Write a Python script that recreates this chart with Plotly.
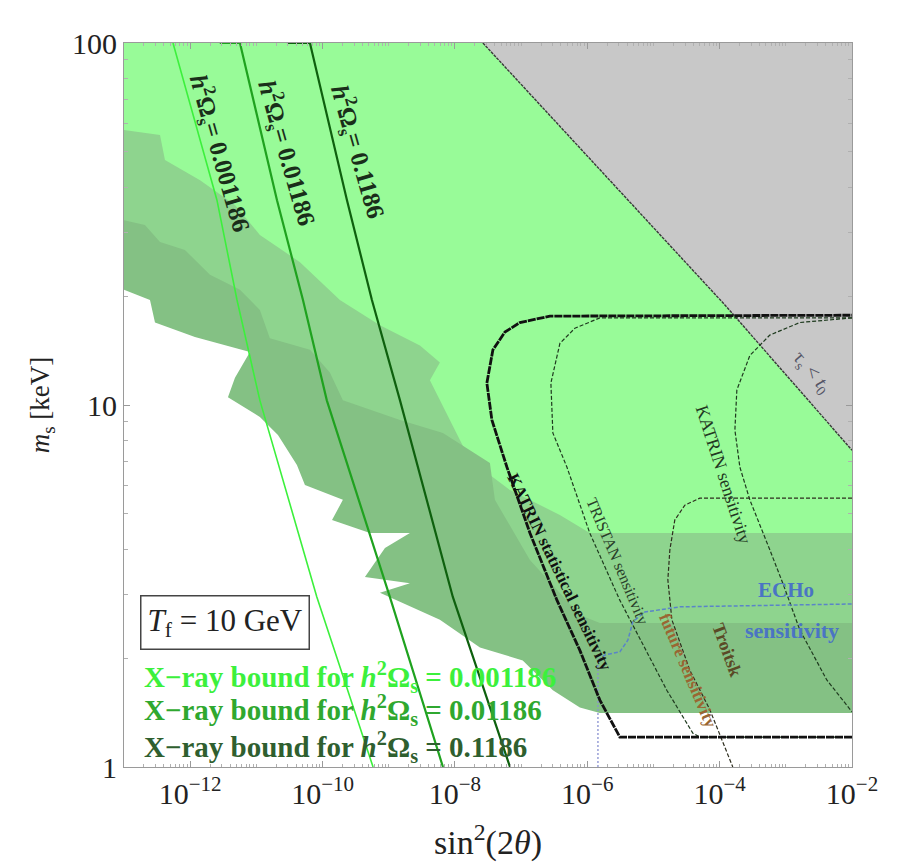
import numpy as np
import plotly.graph_objects as go

# ---------------- data (sin^2(2θ), m_s in keV) ----------------
X_MIN, X_MAX = 1e-13, 1e-2
Y_MIN, Y_MAX = 1.0, 100.0

# upper edge of the lighter X-ray excluded band
band1_x = [1e-13, 3.50e-13, 4.16e-13, 1.41e-12, 4.75e-12, 1.13e-11, 4.56e-11, 1.83e-10,
           7.36e-10, 2.96e-9, 5.93e-9, 4.19e-9, 8.39e-9, 1.69e-8, 6.78e-8, 3.85e-7, 1.09e-6, 1e-2]
band1_y = [57.5, 55.7, 47.5, 41.8, 35.7, 29.5, 24.8, 19.5,
           16.6, 14.6, 13.1, 11.7, 9.09, 7.05, 5.82, 4.97, 4.43, 4.43]

# upper edge of the darker X-ray excluded band
band2_x = [1e-13, 2.07e-13, 3.50e-13, 8.34e-13, 1.99e-12, 5.65e-12, 1.13e-11, 1.60e-11, 6.46e-11,
           1.29e-10, 2.03e-10, 1.48e-9, 6.59e-9, 1.69e-8, 3.38e-8, 4.02e-8, 1.36e-7, 7.73e-7, 1.55e-6, 1e-2]
band2_y = [32.4, 31.4, 28.2, 26.8, 22.9, 20.8, 18.3, 15.3, 14.2,
           12.3, 10.3, 9.09, 8.37, 7.51, 6.92, 5.47, 3.73, 2.63, 2.50, 2.50]

# upper edge of the unconstrained (white) region
white_x = [1e-13, 2.47e-13, 2.94e-13, 1.18e-12, 8.0e-12, 4.75e-12, 3.72e-12, 1.13e-11, 2.12e-11,
           4.10e-11, 5.42e-11, 2.03e-10, 1.39e-10, 5.20e-10, 2.09e-9, 8.77e-10, 4.37e-10, 2.09e-9,
           7.36e-10, 5.93e-9, 2.39e-8, 1.06e-7, 3.02e-7, 7.73e-7, 1.55e-6, 1e-2]
white_y = [20.8, 19.5, 16.9, 15.4, 14.0, 11.9, 10.5, 9.27, 8.26,
           6.83, 6.01, 5.47, 4.81, 4.43, 4.43, 4.03, 3.35, 3.22,
           3.03, 2.55, 2.14, 1.97, 1.63, 1.46, 1.41, 1.41]

# relic abundance lines
omega_low_x = [5.5e-13, 2.54e-12, 5.1e-12, 1.13e-11, 8.2e-11, 5.8e-10]
omega_low_y = [100, 36.8, 19.5, 10.3, 2.95, 1.0]
omega_mid_x = [2.8e-12, 5.65e-12, 2.05e-11, 5.06e-11, 1.16e-10, 1.04e-9, 6.6e-9]
omega_mid_y = [100, 100, 36.8, 19.5, 10.3, 2.95, 1.0]
omega_high_x = [2.9e-11, 6.45e-11, 2.34e-10, 5.57e-10, 1.48e-9, 9.3e-9, 6.8e-8]
omega_high_y = [100, 100, 36.8, 19.5, 10.3, 2.95, 1.0]

# lifetime shorter than age of universe
tau_x = [2.65e-8, 1.2e-4, 1e-2]
tau_y = [100, 18.9, 7.5]

# experimental sensitivity contours
katrin_stat_x = [1e-2, 3.10e-6, 1.55e-6, 7.73e-7, 3.48e-7, 1.36e-7, 6.10e-8, 3.62e-8, 3.04e-8,
                 3.75e-8, 5.69e-8, 9.6e-8, 2.72e-7, 1e-2]
katrin_stat_y = [1.21, 1.21, 1.53, 2.10, 2.89, 4.43, 6.74, 9.09, 11.5,
                 14.2, 15.9, 16.9, 17.6, 17.7]
tristan_x = [1e-2, 1.55e-6, 6.5e-7, 3.86e-7, 2.82e-7, 3.02e-7, 4.92e-7, 1.09e-6, 3.10e-6,
             7.41e-6, 1.59e-5, 3.94e-5, 5.02e-5, 1e-2]
tristan_y = [17.4, 17.4, 16.3, 14.8, 11.5, 8.37, 6.74, 4.43, 2.89,
             2.14, 1.63, 1.24, 1.21, 1.21]
katrin_sens_x = [1e-2, 1.63e-3, 5.73e-4, 2.86e-4, 1.82e-4, 1.70e-4, 2.02e-4, 2.86e-4, 5.73e-4,
                 9.0e-4, 1.63e-3, 4.16e-3, 1e-2]
katrin_sens_y = [17.4, 16.9, 15.6, 13.7, 11.0, 8.53, 6.74, 5.47, 3.98,
                 3.22, 2.39, 1.74, 1.42]
troitsk_x = [1e-2, 5.02e-5, 2.98e-5, 2.10e-5, 1.77e-5, 1.65e-5, 1.90e-5, 3.55e-5, 7.11e-5, 1.58e-4]
troitsk_y = [5.53, 5.53, 5.29, 4.81, 3.98, 3.29, 2.55, 1.85, 1.44, 1.0]
echo_x = [1.45e-6, 1.85e-6, 3.10e-6, 4.10e-6, 4.89e-6, 7.41e-6, 2.51e-5, 1e-2]
echo_y = [1.97, 2.04, 2.08, 2.24, 2.52, 2.68, 2.77, 2.82]
echo_drop_x = [1.45e-6, 1.45e-6]
echo_drop_y = [1.0, 1.97]

x_tick_exps = [-12, -10, -8, -6, -4, -2]
x_tick_vals = [10.0 ** e for e in x_tick_exps]
x_tick_text = ["10<sup>\u2212%d</sup>" % (-e) for e in x_tick_exps]
y_tick_vals = [1, 10, 100]
y_tick_text = ["1", "10", "100"]
x_minor_vals = [k * 10.0 ** e for e in range(-13, -2) for k in range(1, 10)] + [1e-2]
y_minor_vals = [k * 10.0 ** e for e in range(0, 2) for k in range(2, 10)]

# ---------------- figure ----------------
SERIF = "Liberation Serif, Times New Roman, serif"
fig = go.Figure()


def poly(xs, ys, color, close_bottom=True):
    px = list(xs)
    py = list(ys)
    if close_bottom:
        px += [X_MAX, X_MIN]
        py += [Y_MIN, Y_MIN]
    fig.add_trace(go.Scatter(x=px, y=py, mode="lines", fill="toself", fillcolor=color,
                             line=dict(width=0, color=color), hoverinfo="skip", showlegend=False))


def curve(xs, ys, color, width, dash="solid"):
    fig.add_trace(go.Scatter(x=xs, y=ys, mode="lines", line=dict(color=color, width=width, dash=dash),
                             hoverinfo="skip", showlegend=False))


poly([X_MIN, X_MAX, X_MAX, X_MIN], [Y_MAX, Y_MAX, Y_MIN, Y_MIN], "#98FB98", close_bottom=False)
poly(band1_x, band1_y, "#8ED48E")
poly(band2_x, band2_y, "#84C184")
poly(white_x, white_y, "#FFFFFF")
poly(tau_x + [X_MAX], tau_y + [Y_MAX], "#C8C8C8", close_bottom=False)

curve(omega_low_x, omega_low_y, "#3CF03C", 1.6)
curve(omega_mid_x, omega_mid_y, "#1FA21F", 2.2)
curve(omega_high_x, omega_high_y, "#0E600E", 2.2)
curve(tau_x, tau_y, "#3a3a3a", 1.4, "3px,1px")

curve(tristan_x, tristan_y, "#1e3a1e", 1.2, "4px,2px")
curve(katrin_sens_x, katrin_sens_y, "#1e3a1e", 1.2, "4px,2px")
curve(troitsk_x, troitsk_y, "#2e2e1e", 1.2, "4px,2px")
curve(echo_drop_x, echo_drop_y, "#8890d0", 1.3, "2px,2px")
curve(echo_x, echo_y, "#5a84c8", 1.5, "4px,2px")
curve(katrin_stat_x, katrin_stat_y, "#111111", 2.8, "8px,1px")


def label(x, y, text, angle, color, size, bold=False):
    t = "<b>%s</b>" % text if bold else text
    fig.add_annotation(x=np.log10(x), y=np.log10(y), xref="x", yref="y", text=t, showarrow=False,
                       textangle=angle, font=dict(family=SERIF, size=size, color=color))


omega = "<i>h</i><sup>2</sup>\u03a9<sub>s</sub>= "
label(2.82e-12, 49.7, omega + "0.001186", 74, "#1a2e1a", 25, True)
label(2.9e-11, 49.7, omega + "0.01186", 74, "#1a2e1a", 25, True)
label(3.43e-10, 50.0, omega + "0.1186", 74, "#1a2e1a", 25, True)
label(3.85e-7, 3.45, "KATRIN statistical sensitivity", 64, "#111111", 17, True)
label(2.80e-6, 3.70, "TRISTAN sensitivity", 67, "#2a402a", 16)
label(1.15e-4, 6.41, "KATRIN sensitivity", 72, "#223822", 18)
label(1.29e-4, 2.10, "Troitsk", 70, "#5a4a26", 18, True)
label(3.31e-5, 1.85, "future sensitivity", 67, "#9a6632", 17, True)
label(2.47e-3, 12.3, "\u03c4<sub>s</sub> < <i>t</i><sub>0</sub>", 50, "#555566", 20)
label(1.0e-3, 3.08, "ECHo", 0, "#4a74c4", 21, True)
label(1.23e-3, 2.39, "sensitivity", 0, "#4a74c4", 22, True)

fig.add_annotation(x=0.022, y=0.2, xref="paper", yref="paper", xanchor="left", yanchor="middle",
                   text="<i>T</i><sub>f</sub> = 10 GeV", showarrow=False, bgcolor="#FFFFFF",
                   bordercolor="#444444", borderwidth=1.5, borderpad=6,
                   font=dict(family=SERIF, size=31, color="#222222"))
legend_items = [("0.001186", "#3CF03C", 0.124), ("0.01186", "#2FA82F", 0.079), ("0.1186", "#2F5F2F", 0.028)]
for val, col, yy in legend_items:
    fig.add_annotation(x=0.025, y=yy, xref="paper", yref="paper", xanchor="left", yanchor="middle",
                       text="<b>X\u2212ray bound for <i>h</i><sup>2</sup>\u03a9<sub>s</sub> = %s</b>" % val,
                       showarrow=False, font=dict(family=SERIF, size=29, color=col))

axis_common = dict(showline=True, linecolor="#9a9a9a", linewidth=1, mirror="ticks", ticks="inside",
                   ticklen=6, tickcolor="#9a9a9a", showgrid=False, zeroline=False, automargin=False,
                   tickfont=dict(family=SERIF, size=30, color="#222222"))
fig.update_xaxes(type="log", range=[np.log10(X_MIN), np.log10(X_MAX)], tickmode="array",
                 tickvals=x_tick_vals, ticktext=x_tick_text,
                 title=dict(text="sin<sup>2</sup>(2<i>\u03b8</i>)", font=dict(family=SERIF, size=34, color="#222222"), standoff=22),
                 minor=dict(ticks="inside", ticklen=3, tickcolor="#b0b0b0", tickmode="array", tickvals=x_minor_vals),
                 **axis_common)
fig.update_yaxes(type="log", range=[np.log10(Y_MIN), np.log10(Y_MAX)], tickmode="array",
                 tickvals=y_tick_vals, ticktext=y_tick_text,
                 title=dict(text="<i>m</i><sub>s</sub> [keV]", font=dict(family=SERIF, size=27, color="#222222"), standoff=14),
                 minor=dict(ticks="inside", ticklen=4, tickcolor="#b0b0b0", tickmode="array", tickvals=y_minor_vals),
                 **axis_common)
fig.update_layout(width=899, height=862, margin=dict(l=124, r=47, t=43, b=95),
                  paper_bgcolor="#FFFFFF", plot_bgcolor="#FFFFFF", showlegend=False)
fig.write_html("out.html")
